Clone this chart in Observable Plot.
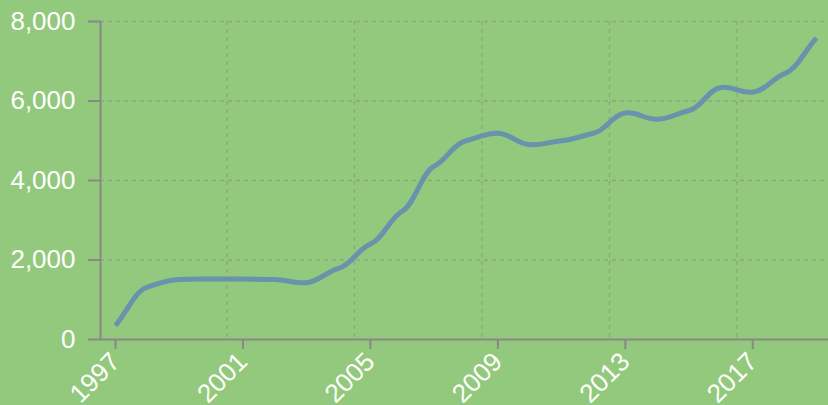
<!DOCTYPE html>
<html>
<head>
<meta charset="utf-8">
<script src="https://cdn.jsdelivr.net/npm/d3@7"></script>
<script src="https://cdn.jsdelivr.net/npm/@observablehq/plot@0.6"></script>
<style>
  html, body { margin: 0; padding: 0; background: #93c97c; }
  #chart svg { display: block; }
</style>
</head>
<body>
<div id="chart"></div>
<script>
const years = [1997, 1998, 1999, 2000, 2001, 2002, 2003, 2004, 2005, 2006, 2007, 2008,
               2009, 2010, 2011, 2012, 2013, 2014, 2015, 2016, 2017, 2018, 2019];
const values = [350, 1320, 1510, 1520, 1520, 1510, 1430, 1790, 2400, 3230, 4360, 5000,
                5190, 4900, 5000, 5190, 5700, 5540, 5760, 6340, 6220, 6690, 7590];
const xTicks = [1997, 2001, 2005, 2009, 2013, 2017];
const xGrid = [2000.5, 2004.5, 2008.5, 2012.5, 2016.5];
const yTicks = [0, 2000, 4000, 6000, 8000];

const data = years.map((y, i) => ({year: y, value: values[i]}));
const xDomain = [1996.529, 2019.377];

// Smooth spline with softened tangents at each data point (gives the "shouldered" look)
function softSpline(context) {
  const K = 0.45, H = 0.4;
  let xs, ys;
  return {
    areaStart() {}, areaEnd() {},
    lineStart() { xs = []; ys = []; },
    point(x, y) { xs.push(+x); ys.push(+y); },
    lineEnd() {
      const n = xs.length;
      if (!n) return;
      context.moveTo(xs[0], ys[0]);
      if (n === 1) return;
      const m = xs.map((_, i) => {
        if (i === 0) return (ys[1] - ys[0]) / (xs[1] - xs[0]);
        if (i === n - 1) return (ys[n - 1] - ys[n - 2]) / (xs[n - 1] - xs[n - 2]);
        return K * (ys[i + 1] - ys[i - 1]) / (xs[i + 1] - xs[i - 1]);
      });
      for (let i = 0; i < n - 1; i++) {
        const h = (xs[i + 1] - xs[i]) * H;
        context.bezierCurveTo(xs[i] + h, ys[i] + m[i] * h, xs[i + 1] - h, ys[i + 1] - m[i + 1] * h, xs[i + 1], ys[i + 1]);
      }
    }
  };
}

const gridStyle = {stroke: "#808080", strokeOpacity: 0.45, strokeDasharray: "4,4", strokeWidth: 1.3};

const chart = Plot.plot({
  width: 828,
  height: 405,
  marginLeft: 100,
  marginRight: 0,
  marginTop: 21,
  marginBottom: 66,
  x: {domain: xDomain, label: null},
  y: {domain: [0, 8000], label: null},
  style: {background: "#93c97c", fontFamily: "'Liberation Sans', Arial, sans-serif", overflow: "visible"},
  marks: [
    Plot.ruleY(yTicks.slice(1), gridStyle),
    Plot.ruleX(xGrid, gridStyle),
    Plot.ruleX([xDomain[0]], {stroke: "#888", strokeWidth: 2}),
    Plot.ruleY([0], {stroke: "#888", strokeWidth: 2}),
    Plot.line(data, {x: "year", y: "value", stroke: "#6793ad", strokeWidth: 5, curve: softSpline, strokeLinecap: "butt"}),
    Plot.axisY({ticks: yTicks, label: null, tickSize: 12, tickPadding: 13, stroke: "#888", strokeWidth: 2, fill: "white", fontSize: 26, tickFormat: d3.format(",")}),
    Plot.axisX({ticks: xTicks, label: null, tickSize: 10, tickPadding: 8, tickRotate: -45, stroke: "#888", strokeWidth: 2, fill: "white", fontSize: 26, tickFormat: d => String(d)})
  ]
});
document.getElementById("chart").appendChild(chart);
</script>
</body>
</html>
